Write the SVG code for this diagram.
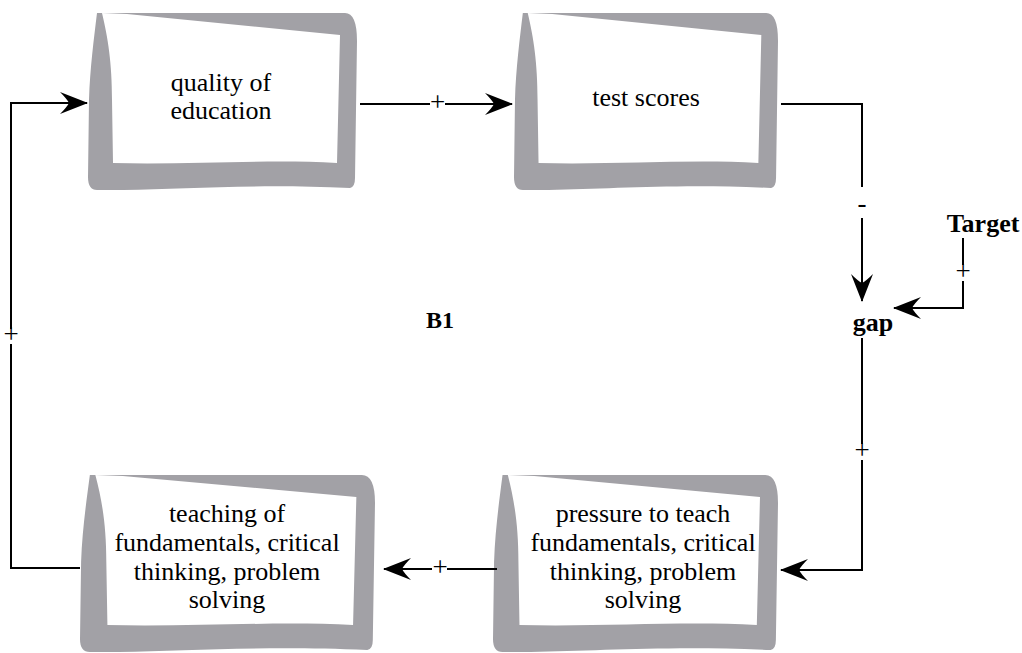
<svg xmlns="http://www.w3.org/2000/svg" xmlns:xlink="http://www.w3.org/1999/xlink" width="1022" height="653" viewBox="0 0 1022 653">
  <style>
    .frame { fill: #a2a1a6; }
    .face { fill: #ffffff; }
    text { font-family: "Liberation Serif", "Times New Roman", serif; fill: #000; text-anchor: middle; }
    .label { font-size: 26px; }
    .bold { font-weight: bold; }
    .pol { font-size: 27px; }
    .link { fill: none; stroke: #000; stroke-width: 2; }
    .head { marker-end: url(#arrow); }
  </style>
  <defs>
    <!-- stock shape: grey rough frame with white face, stretched to each box -->
    <symbol id="stock" viewBox="0 0 269 177" preserveAspectRatio="none">
      <path class="frame" d="M9,0 C6,25 2,55 1,87 L0,164 Q0,177 9,177 C80,178 150,170 262,175 Q267,174 267,165 L269,28 Q269,0 257,0 L39,0 Z"/>
      <path class="face" d="M14,0 L39,1 L252,22 L249,150 C180,146 100,152 25,150 L24,87 C24,50 20,25 14,0 Z"/>
    </symbol>
    <marker id="arrow" viewBox="-29 -12 31 24" refX="0" refY="0" markerWidth="31" markerHeight="24" markerUnits="userSpaceOnUse" orient="auto">
      <path d="M1,0 L-27,-11 Q-20,-4 -18,0 Q-20,4 -27,11 Z" fill="#000"/>
    </marker>
  </defs>

  <g id="node-quality">
    <use xlink:href="#stock" x="88" y="13" width="269" height="177"/>
    <text class="label" x="221" y="91">quality of</text>
    <text class="label" x="221" y="119">education</text>
  </g>

  <g id="node-scores">
    <use xlink:href="#stock" x="514" y="13" width="264" height="177"/>
    <text class="label" x="646" y="106">test scores</text>
  </g>

  <g id="node-teaching">
    <use xlink:href="#stock" x="80" y="475" width="295" height="177"/>
    <text class="label" x="227" y="522">teaching of</text>
    <text class="label" x="227" y="551">fundamentals, critical</text>
    <text class="label" x="227" y="580">thinking, problem</text>
    <text class="label" x="227" y="608">solving</text>
  </g>

  <g id="node-pressure">
    <use xlink:href="#stock" x="493" y="475" width="285" height="177"/>
    <text class="label" x="643" y="522">pressure to teach</text>
    <text class="label" x="643" y="551">fundamentals, critical</text>
    <text class="label" x="643" y="580">thinking, problem</text>
    <text class="label" x="643" y="608">solving</text>
  </g>

  <g id="node-gap">
    <text class="label bold" x="873" y="331">gap</text>
  </g>

  <g id="node-target">
    <text class="label bold" x="983" y="232">Target</text>
  </g>

  <g id="loop-label">
    <text class="bold" x="440" y="328" font-size="24">B1</text>
  </g>

  <g id="connectors">
    <!-- quality of education -> test scores -->
    <path class="link" d="M360,104 H430"/>
    <path class="link head" d="M445,104 H512"/>
    <text class="pol" x="437.5" y="111">+</text>

    <!-- test scores -> gap -->
    <path class="link" d="M781,104 H862 V187"/>
    <path class="link head" d="M862,218 V301"/>
    <text class="pol" x="862" y="212">-</text>

    <!-- Target -> gap -->
    <path class="link" d="M963,238 V265"/>
    <path class="link head" d="M963,281 V308 H894"/>
    <text class="pol" x="963" y="280">+</text>

    <!-- gap -> pressure to teach -->
    <path class="link" d="M862,338 V444"/>
    <path class="link head" d="M862,460 V570 H781"/>
    <text class="pol" x="862" y="459">+</text>

    <!-- pressure to teach -> teaching -->
    <path class="link" d="M497,569 H447"/>
    <path class="link head" d="M432,569 H384"/>
    <text class="pol" x="440" y="576">+</text>

    <!-- teaching -> quality of education -->
    <path class="link" d="M80,568 H11 V344"/>
    <path class="link head" d="M11,329 V103 H87"/>
    <text class="pol" x="11" y="343">+</text>
  </g>
</svg>
